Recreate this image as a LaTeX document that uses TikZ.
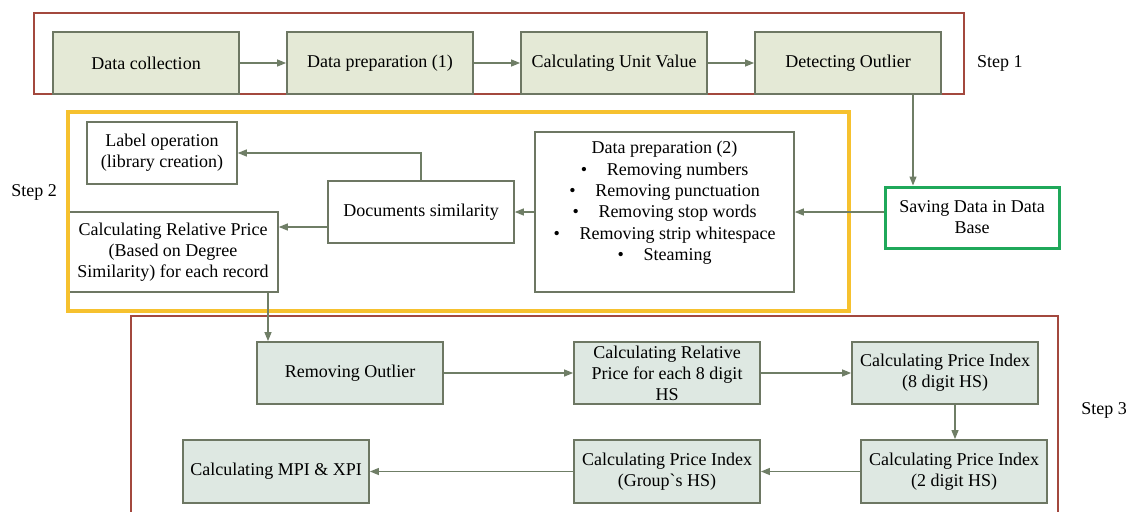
\documentclass[tikz,border=0pt]{standalone}
\usepackage{fontspec}
\setmainfont{Liberation Serif}
\usetikzlibrary{arrows.meta,calc}
\definecolor{topfill}{HTML}{E4E9D6}
\definecolor{botfill}{HTML}{DEE8E2}
\definecolor{boxline}{HTML}{6D7763}
\definecolor{arrcol}{HTML}{6F7E66}
\definecolor{redc}{HTML}{A3483E}
\definecolor{yellowc}{HTML}{F6C12E}
\definecolor{greenc}{HTML}{1FA85A}
\newcommand\mybul{\makebox[26pt][l]{\textbullet}}
\begin{document}
\begin{tikzpicture}[x=1pt,y=-1pt,
  every node/.style={font=\fontsize{18}{21}\selectfont, align=center, inner sep=0pt},
  topbox/.style={draw=boxline, line width=1.8pt, fill=topfill, minimum width=186pt, minimum height=62pt},
  botbox/.style={draw=boxline, line width=1.8pt, fill=botfill, minimum width=186pt, minimum height=62pt},
  whitebox/.style={draw=boxline, line width=1.6pt, fill=white},
  arr/.style={draw=arrcol, line width=1.2pt, -{Triangle[length=9pt,width=7pt]}},
  frame/.style={draw=redc, line width=1.6pt},
]
\useasboundingbox (0,0) rectangle (1131,511);
\fill[white] (0,0) rectangle (1131,511);

% Step 1 frame
\draw[frame] (34,13) rectangle (964,94);
\node[topbox] (dc) at (146,63) {Data collection};
\node[topbox] (dp1) at (380,63) {Data preparation (1)};
\node[topbox] (cuv) at (614,63) {Calculating Unit Value};
\node[topbox] (dout) at (848,63) {Detecting Outlier};
\node[anchor=west] (s1) at (977,63) {Step 1};

% Step 2
\node[whitebox, minimum width=150pt, minimum height=62pt] (labop) at (162,153) {Label operation\\(library creation)};
\node[whitebox, minimum width=186pt, minimum height=62pt] (docsim) at (421,212) {Documents similarity};
\node[whitebox, minimum width=210pt, minimum height=80pt] (calcrel) at (173,252) {Calculating Relative Price\\(Based on Degree\\Similarity) for each record};
\node[whitebox, minimum width=259pt, minimum height=160pt] (dp2) at (664.5,212) {};
\node[anchor=north, font=\fontsize{18}{21.3}\selectfont] (dp2t) at ($(dp2.north)+(0,10)$) {Data preparation (2)\\\mybul Removing numbers\\\mybul Removing punctuation\\\mybul Removing stop words\\\mybul Removing strip whitespace\\\mybul Steaming};
\node[draw=greenc, line width=3pt, fill=white, minimum width=174pt, minimum height=61pt] (save) at (972,217.5) {Saving Data in Data\\Base};
\node (s2) at (34,192) {Step 2};
\draw[draw=yellowc, line width=3.5pt] (68,112) rectangle (849,311);

% Step 3 frame
\draw[frame] (131,525) -- (131,316) -- (1058,316) -- (1058,525);
\node[botbox] (remout) at (350,373) {Removing Outlier};
\node[botbox] (relhs) at (667,373) {Calculating Relative\\Price for each 8 digit\\HS};
\node[botbox] (pi8) at (945,373) {Calculating Price Index\\(8 digit HS)};
\node[botbox, minimum height=63pt] (pi2) at (954,471.5) {Calculating Price Index\\(2 digit HS)};
\node[botbox, minimum height=63pt] (pig) at (667,471.5) {Calculating Price Index\\(Group\textasciigrave s HS)};
\node[botbox, minimum height=63pt] (mpi) at (276,471.5) {Calculating MPI \& XPI};
\node (s3) at (1104,410) {Step 3};

% connectors
\coordinate (t1) at ($(dout.south)+(65,0)$);
\coordinate (t2) at ($(docsim.west)+(0,15)$);
\coordinate (t3) at ($(calcrel.south)+(95,0)$);
\coordinate (t4) at ($(pi8.south)+(10,0)$);
\draw[arr] (dc) -- (dp1);
\draw[arr] (dp1) -- (cuv);
\draw[arr] (cuv) -- (dout);
\draw[arr] (t1) -- (t1 |- save.north);
\draw[arr] (save.west |- dp2.east) -- (dp2.east);
\draw[arr] (dp2.west) -- (docsim.east);
\draw[arr] (t2) -- (t2 -| calcrel.east);
\draw[arr] (docsim.north) |- (labop.east);
\draw[arr] (t3) -- (t3 |- remout.north);
\draw[arr] (remout) -- (relhs);
\draw[arr] (relhs) -- (pi8);
\draw[arr] (t4) -- (t4 |- pi2.north);
\draw[arr] (pi2) -- (pig);
\draw[arr] (pig) -- (mpi);
\end{tikzpicture}
\end{document}
